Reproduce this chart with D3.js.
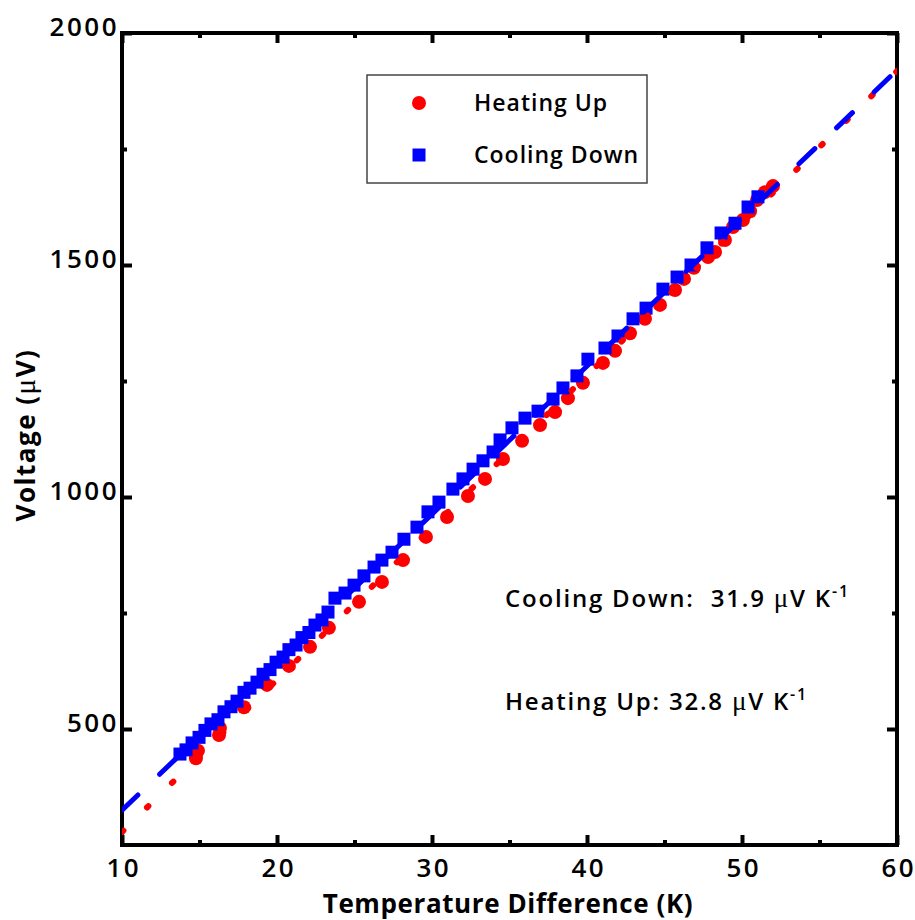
<!DOCTYPE html>
<html>
<head>
<meta charset="utf-8">
<script src="https://cdn.jsdelivr.net/npm/d3@7"></script>
<style>
body { margin: 0; background: #fff; }
text { font-family: "Open Sans", sans-serif; fill: #000; }
.tick text { font-size: 26px; font-weight: 600; letter-spacing: 2.5px; }
.axis-title { font-size: 26px; font-weight: 700; letter-spacing: 0.6px; }
.legend-text { font-size: 23px; font-weight: 600; letter-spacing: 1px; }
.note { font-size: 24px; font-weight: 600; letter-spacing: 1.8px; white-space: pre; }
.mu { font-family: "Liberation Serif", serif; font-weight: 400; }
</style>
</head>
<body>
<svg id="chart"></svg>
<script>
"use strict";

// tick values
var xTicks = [10, 20, 30, 40, 50, 60];
var xMinorTicks = [15, 25, 35, 45, 55];
var yTicks = [500, 1000, 1500, 2000];
var yMinorTicks = [750, 1250, 1750];

// Heating Up (red circles): temperature difference (K) / voltage (uV)
var heatingT = [14.77, 14.90, 16.26, 16.32, 17.87, 19.35, 20.77, 22.13, 23.35, 25.29,
	26.77, 28.13, 29.61, 30.97, 32.32, 33.42, 34.58, 35.81, 36.97, 37.94,
	38.77, 39.74, 41.03, 41.81, 42.77, 43.74, 44.71, 45.68, 46.26, 46.90,
	47.81, 48.26, 48.90, 49.42, 50.06, 50.52, 50.97, 51.48, 52.00];
var heatingV = [437, 453, 487, 502, 547, 595, 636, 677, 718, 774,
	817, 864, 914, 957, 1002, 1039, 1082, 1121, 1155, 1183,
	1213, 1246, 1289, 1315, 1353, 1384, 1414, 1446, 1470, 1494,
	1517, 1528, 1554, 1582, 1597, 1616, 1640, 1657, 1670];

// Cooling Down (blue squares)
var coolingT = [13.74, 14.13, 14.52, 14.97, 15.35, 15.74, 16.19, 16.58, 17.03, 17.42,
	17.87, 18.26, 18.71, 19.10, 19.55, 19.94, 20.39, 20.77, 21.23, 21.61,
	22.06, 22.45, 22.90, 23.29, 23.74, 24.39, 24.97, 25.61, 26.26, 26.77,
	27.42, 28.19, 29.03, 29.74, 30.45, 31.35, 32.00, 32.65, 33.29, 33.94,
	34.39, 35.16, 36.00, 36.84, 37.81, 38.45, 39.35, 40.06, 41.16, 42.00,
	42.97, 43.81, 44.90, 45.81, 46.71, 47.74, 48.65, 49.55, 50.39, 51.03];
var coolingV = [446, 455, 470, 482, 497, 511, 520, 537, 548, 560,
	579, 588, 601, 618, 628, 644, 655, 671, 681, 697,
	708, 724, 735, 752, 782, 793, 810, 830, 849, 864,
	881, 909, 935, 968, 989, 1017, 1039, 1060, 1078, 1097,
	1123, 1149, 1170, 1185, 1211, 1235, 1261, 1297, 1321, 1347,
	1384, 1407, 1448, 1474, 1500, 1537, 1569, 1590, 1625, 1647];

// linear fits (endpoints at the x limits)
var heatingFitT = [10, 60];
var heatingFitV = [278, 1918];
var coolingFitT = [10, 60];
var coolingFitV = [325, 1920];

var margin = {left: 122, top: 33, right: 18, bottom: 75};
var width = 915 - margin.left - margin.right;
var height = 920 - margin.top - margin.bottom;

var svg = d3.select("#chart")
	.attr("width", 915)
	.attr("height", 920);

var g = svg.append("g")
	.attr("transform", "translate(" + margin.left + "," + margin.top + ")");

var x = d3.scaleLinear().domain([10, 60]).range([0, width]);
var y = d3.scaleLinear().domain([250, 2000]).range([height, 0]);

svg.append("defs").append("clipPath")
	.attr("id", "plotclip")
	.append("rect")
	.attr("width", width)
	.attr("height", height);

function styleAxis(sel) {
	sel.select(".domain").remove();
	sel.selectAll(".tick line")
		.attr("stroke", "#000")
		.attr("stroke-width", 4);
}

// bottom / left with labels
g.append("g")
	.attr("transform", "translate(0," + height + ")")
	.call(d3.axisBottom(x).tickValues(xTicks).tickSizeInner(-10).tickSizeOuter(0)
		.tickPadding(14).tickFormat(d3.format("d")))
	.call(styleAxis)
	.selectAll(".tick text").attr("dx", 1.25);
g.append("g")
	.call(d3.axisLeft(y).tickValues(yTicks).tickSizeInner(-10).tickSizeOuter(0)
		.tickPadding(3).tickFormat(d3.format("d")))
	.call(styleAxis)
	.selectAll(".tick text").attr("dy", 2);

// minor ticks and the mirrored top / right ticks
g.append("g")
	.attr("transform", "translate(0," + height + ")")
	.call(d3.axisBottom(x).tickValues(xMinorTicks).tickSizeInner(-5).tickSizeOuter(0).tickFormat(""))
	.call(styleAxis);
g.append("g")
	.call(d3.axisLeft(y).tickValues(yMinorTicks).tickSizeInner(-5).tickSizeOuter(0).tickFormat(""))
	.call(styleAxis);
g.append("g")
	.call(d3.axisTop(x).tickValues(xTicks).tickSizeInner(-10).tickSizeOuter(0).tickFormat(""))
	.call(styleAxis);
g.append("g")
	.call(d3.axisTop(x).tickValues(xMinorTicks).tickSizeInner(-5).tickSizeOuter(0).tickFormat(""))
	.call(styleAxis);
g.append("g")
	.attr("transform", "translate(" + width + ",0)")
	.call(d3.axisRight(y).tickValues(yTicks).tickSizeInner(-10).tickSizeOuter(0).tickFormat(""))
	.call(styleAxis);
g.append("g")
	.attr("transform", "translate(" + width + ",0)")
	.call(d3.axisRight(y).tickValues(yMinorTicks).tickSizeInner(-5).tickSizeOuter(0).tickFormat(""))
	.call(styleAxis);

g.append("rect")
	.attr("width", width)
	.attr("height", height)
	.attr("fill", "none")
	.attr("stroke", "#000")
	.attr("stroke-width", 4);

// markers
var heating = d3.range(heatingT.length).map(function(i) {
	return {t: heatingT[i], v: heatingV[i]};
});
var cooling = d3.range(coolingT.length).map(function(i) {
	return {t: coolingT[i], v: coolingV[i]};
});

var plot = g.append("g").attr("clip-path", "url(#plotclip)");

plot.selectAll(".heat")
	.data(heating)
	.enter().append("circle")
	.attr("class", "heat")
	.attr("cx", function(d) { return x(d.t); })
	.attr("cy", function(d) { return y(d.v); })
	.attr("r", 7)
	.attr("fill", "#ff0000");

var sq = 13;
plot.selectAll(".cool")
	.data(cooling)
	.enter().append("rect")
	.attr("class", "cool")
	.attr("x", function(d) { return x(d.t) - sq / 2; })
	.attr("y", function(d) { return y(d.v) - sq / 2; })
	.attr("width", sq)
	.attr("height", sq)
	.attr("fill", "#0000ff");

// fit lines
var fitLine = d3.line()
	.x(function(d) { return x(d[0]); })
	.y(function(d) { return y(d[1]); });

plot.append("path")
	.datum(d3.zip(heatingFitT, heatingFitV))
	.attr("d", fitLine)
	.attr("fill", "none")
	.attr("stroke", "#ff0000")
	.attr("stroke-width", 6)
	.attr("stroke-linecap", "round")
	.attr("stroke-dasharray", "2,33");

plot.append("path")
	.datum(d3.zip(coolingFitT, coolingFitV))
	.attr("d", fitLine)
	.attr("fill", "none")
	.attr("stroke", "#0000ff")
	.attr("stroke-width", 5)
	.attr("stroke-linecap", "round")
	.attr("stroke-dasharray", "22,30");

// legend
var legend = svg.append("g").attr("transform", "translate(367,75)");
legend.append("rect")
	.attr("width", 280)
	.attr("height", 108)
	.attr("fill", "#fff")
	.attr("stroke", "#444")
	.attr("stroke-width", 1.5);
legend.append("circle")
	.attr("cx", 52)
	.attr("cy", 28)
	.attr("r", 7)
	.attr("fill", "#ff0000");
legend.append("rect")
	.attr("x", 52 - sq / 2)
	.attr("y", 80 - sq / 2)
	.attr("width", sq)
	.attr("height", sq)
	.attr("fill", "#0000ff");
legend.append("text")
	.attr("class", "legend-text")
	.attr("x", 107)
	.attr("y", 36)
	.text("Heating Up");
legend.append("text")
	.attr("class", "legend-text")
	.attr("x", 107)
	.attr("y", 88)
	.text("Cooling Down");

// slope annotations
function slopeNote(xp, yp, label) {
	var t = svg.append("text")
		.attr("class", "note")
		.attr("x", xp)
		.attr("y", yp);
	t.append("tspan").text(label);
	t.append("tspan").attr("class", "mu").style("font-size", "27px").text("\u03bc");
	t.append("tspan").text("V K");
	t.append("tspan").attr("dy", -10).style("font-size", "16px").text("-1");
}
slopeNote(505, 607, "Cooling Down:  31.9 ");
slopeNote(505, 710, "Heating Up: 32.8 ");

// axis titles
svg.append("text")
	.attr("class", "axis-title")
	.attr("x", 508)
	.attr("y", 913)
	.attr("text-anchor", "middle")
	.text("Temperature Difference (K)");

var yTitle = svg.append("text")
	.attr("class", "axis-title")
	.attr("transform", "translate(35,435) rotate(-90)")
	.attr("text-anchor", "middle")
	.style("letter-spacing", "1.5px");
yTitle.append("tspan").text("Voltage (");
yTitle.append("tspan").attr("class", "mu").style("font-size", "29px").text("\u03bc");
yTitle.append("tspan").text("V)");
</script>
</body>
</html>
